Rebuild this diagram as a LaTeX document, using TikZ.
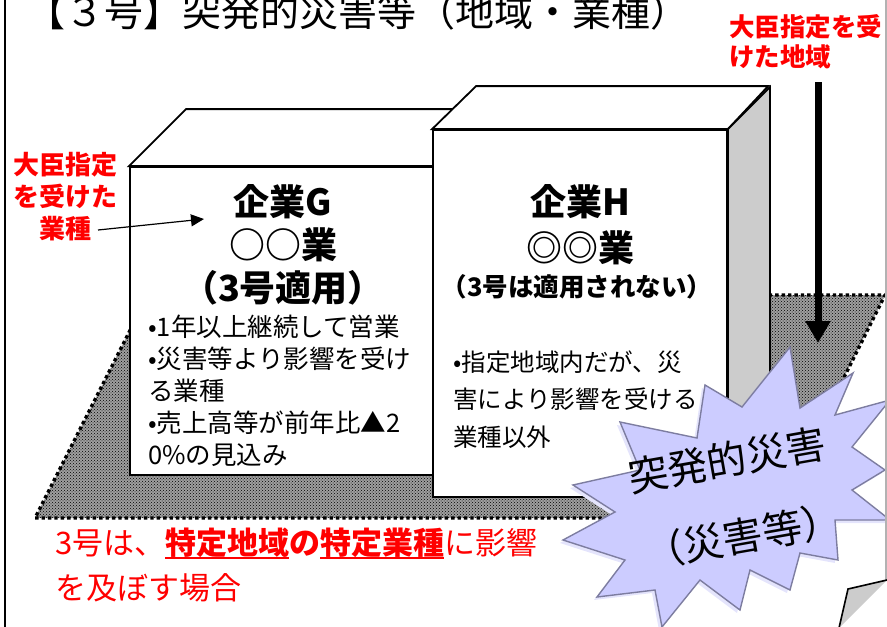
\documentclass[tikz,border=0pt]{standalone}
\usepackage{fontspec}
\setmainfont{Noto Sans CJK JP}
\usetikzlibrary{arrows.meta, patterns}

\definecolor{sidegray}{RGB}{204,204,204}
\definecolor{burstfill}{RGB}{204,204,255}
\definecolor{burstedge}{RGB}{125,125,160}
\definecolor{burstshade}{RGB}{228,228,252}

% bold text with a thick underline
\newcommand\ulbold[1]{\setbox0\hbox{\bfseries #1}\rlap{\vrule height -2pt depth 4pt width \wd0}\box0}
% outline of the explosion shape
\newcommand\burstoutline{(573,485) -- (640,470) -- (620,422) -- (697,438) -- (705,385) -- (742,407)
  -- (790,347) -- (800,408) -- (853,373) -- (835,415) -- (890,400) -- (852,447) -- (885,470)
  -- (852,490) -- (890,520) -- (835,520) -- (838,560) -- (800,553) -- (790,590) -- (750,570)
  -- (740,610) -- (700,580) -- (662,627) -- (655,590) -- (597,597) -- (625,560) -- (563,540)
  -- (615,512) -- cycle}

\begin{document}
\begin{tikzpicture}[x=1pt, y=-1pt]

% Define block styles
\tikzstyle{face} = [draw, fill=white, line width=1.8pt, inner sep=0pt]
\tikzstyle{heading} = [font=\bfseries\fontsize{36}{43}\selectfont, align=center, inner sep=0pt]
\tikzstyle{bullets} = [align=left, anchor=west, inner sep=0pt]
\tikzstyle{redlabel} = [text=red, inner sep=0pt]
\tikzstyle{bursttext} = [rotate=10, inner sep=0pt, font=\fontsize{40}{44}\selectfont]
\tikzstyle{arrow} = [line width=1.2pt, -{Triangle[width=12pt,length=13pt]}]
\tikzstyle{bigarrow} = [line width=7pt, -{Triangle[width=24pt,length=22pt]}]

\useasboundingbox (0,0) rectangle (887,627);
\clip (0,0) rectangle (887,627);

% Title
\node (title) at (358,12) {\fontsize{39}{42}\selectfont【３号】突発的災害等（地域・業種）};

% Ground (designated area)
\fill[gray!75] (148,295) -- (885,295) -- (774,518) -- (35,518) -- cycle;
\fill[pattern=crosshatch dots, pattern color=black] (148,295) -- (885,295) -- (774,518) -- (35,518) -- cycle;
\draw[line width=3.4pt, dash pattern=on 3.4pt off 3pt] (148,295) -- (885,295) -- (774,518) -- (35,518) -- cycle;

% Company G
\node (gface) [face, minimum width=303pt, minimum height=308pt] at (281.5,321) {};
\draw[line width=1.8pt, fill=white] (gface.north west) -- ++(57,-57) -- ++(303,0) -- (gface.north east) -- cycle;
\node (gtitle) [heading] at (283,245) {企業G\\○○業\\（3号適用）};
\node (gbody) [bullets, font=\fontsize{25.5}{32}\selectfont] at (148,391)
  {•1年以上継続して営業\\•災害等より影響を受け\\る業種\\•売上高等が前年比▲2\\0\%の見込み};

% Company H
\node (hface) [face, minimum width=294pt, minimum height=367pt] at (580,313.5) {};
\draw[line width=1.8pt, fill=white] (hface.north west) -- ++(44,-43) -- ++(292,0) -- (hface.north east) -- cycle;
\draw[line width=1.8pt, fill=sidegray] (hface.north east) -- ++(42,-42) -- ++(0,367) -- (hface.south east) -- cycle;
\node (htitle) [heading, font=\bfseries\fontsize{36}{46}\selectfont] at (580,225) {企業H\\◎◎業};
\node (hnote) [heading, font=\bfseries\fontsize{25.5}{30}\selectfont] at (577,287) {（3号は適用されない）};
\node (hbody) [bullets, font=\fontsize{24.5}{37.5}\selectfont] at (453,399.5)
  {•指定地域内だが、災\\害により影響を受ける\\業種以外};

% Labels
\node (sectlbl) [redlabel, align=center, font=\bfseries\fontsize{26}{32}\selectfont] at (65,197) {大臣指定\\を受けた\\業種};
\node (arealbl) [redlabel, align=left, font=\bfseries\fontsize{25.5}{30}\selectfont, anchor=west] at (729,42) {大臣指定を受\\けた地域};
\node (caseline) [redlabel, align=left, font=\fontsize{31}{45}\selectfont, anchor=west] at (55,565.5)
  {3号は、\ulbold{特定地域}\textbf{の}\ulbold{特定業種}に影響\\を及ぼす場合};

% Arrows
\coordinate (sectfoot) at (98,230);
\coordinate (gmark) at (204,219);
\coordinate (areatop) at (818,82);
\coordinate (areatip) at (818,343);
\draw [arrow] (sectfoot) -- (gmark);
\draw [bigarrow] (areatop) -- (areatip);

% Explosion
\fill[burstshade, xshift=-3pt, yshift=-3pt] \burstoutline;
\draw[fill=burstfill, draw=burstedge, line width=1.4pt, line join=miter] \burstoutline;
\node (burst1) [bursttext] at (727,460) {突発的災害};
\node (burst2) [bursttext] at (743,536) {（災害等）};

% Sheet edges and folded corner
\draw[line width=2pt] (5,-5) -- (5,632);
\draw[gray!60, line width=1.2pt] (886,-5) -- (886,581);
\fill[sidegray] (848,589) -- (887,580) -- (839,628) -- cycle;
\draw[line width=1.6pt, line join=miter] (887,580) -- (848,589) -- (839,628);

\end{tikzpicture}
\end{document}
